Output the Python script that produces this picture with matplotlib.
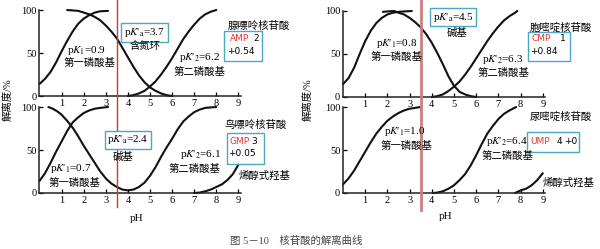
import matplotlib.pyplot as plt
from matplotlib.patches import Rectangle
from matplotlib.lines import Line2D

plt.rcParams["font.family"] = ["Liberation Serif", "Noto Sans CJK SC"]
plt.rcParams["mathtext.fontset"] = "stix"

# ---- data (pH, dissociation %) ----
# AMP (top left)
amp_p1_ph = [0, 0.25, 0.5, 0.75, 1, 1.25, 1.5, 1.75, 2, 2.25, 2.5, 2.75, 3.1]
amp_p1_pct = [14, 20, 28, 39, 52, 64, 75, 84, 90, 94, 97, 98.5, 99]
amp_base_ph = [1.25, 1.5, 1.75, 2, 2.25, 2.5, 2.75, 3, 3.25, 3.5, 3.75,
               4, 4.25, 4.5, 4.75, 5, 5.25, 5.5, 5.75, 6]
amp_base_pct = [100, 99.5, 99, 97, 95, 92, 88, 82, 75, 67, 56,
                45, 34, 24, 16, 10, 6, 3, 1, 0]
amp_p2_ph = [4, 4.25, 4.5, 4.75, 5, 5.25, 5.5, 5.75, 6, 6.25, 6.5,
             6.75, 7, 7.25, 7.5, 7.75, 8]
amp_p2_pct = [0, 1, 3, 6, 11, 17, 25, 34, 44, 55, 66,
              75, 83, 90, 95, 98, 100]

# CMP (top right)
cmp_p1_ph = [0, 0.25, 0.5, 0.75, 1, 1.25, 1.5, 1.75, 2, 2.25, 2.5, 2.75, 3.1]
cmp_p1_pct = [15, 22, 34, 50, 65, 77, 86, 92, 96, 98, 99, 99.5, 100]
cmp_base_ph = [1.8, 2, 2.3, 2.5, 2.75, 3, 3.25, 3.5, 3.75, 4, 4.25,
               4.5, 4.75, 5, 5.25, 5.5, 5.75, 6]
cmp_base_pct = [99, 99.5, 100, 98, 96, 92, 87, 81, 73, 63, 51,
                38, 24, 13, 6, 3, 1, 0]
cmp_p2_ph = [4, 4.25, 4.5, 4.75, 5, 5.25, 5.5, 5.75, 6, 6.25, 6.5,
             6.75, 7, 7.25, 7.5, 7.75, 7.85]
cmp_p2_pct = [0, 1, 3, 7, 12, 18, 26, 35, 45, 55, 65,
              74, 82, 89, 94, 98, 100]

# GMP (bottom left)
gmp_p1_ph = [0, 0.25, 0.5, 0.75, 1, 1.25, 1.5, 1.75, 2, 2.25, 2.5, 2.75, 3.1]
gmp_p1_pct = [14, 23, 35, 48, 60, 72, 82, 88, 93, 96, 98, 99, 100]
gmp_mid_ph = [0.4, 0.6, 0.8, 1, 1.25, 1.5, 1.75, 2, 2.25, 2.5, 2.75, 3,
              3.25, 3.5, 3.75, 4, 4.25, 4.5, 4.75, 5, 5.25, 5.5, 5.75,
              6, 6.25, 6.5, 6.75, 7, 7.25, 7.5, 8]
gmp_mid_pct = [100, 98, 95, 91, 84, 76, 66, 55, 45, 35, 25, 17,
               11, 7, 4, 3, 4, 7, 12, 20, 30, 42, 53,
               63, 74, 83, 89, 94, 97, 99, 100]
gmp_enol_ph = [7, 7.25, 7.5, 7.75, 8, 8.25, 8.5, 8.75, 9]
gmp_enol_pct = [0, 0.5, 2, 4, 7, 10, 15, 22, 33]

# UMP (bottom right)
ump_p1_ph = [0, 0.25, 0.5, 0.75, 1, 1.25, 1.5, 1.75, 2, 2.25, 2.5, 2.75, 3, 3.5]
ump_p1_pct = [10, 17, 26, 37, 48, 59, 69, 77, 84, 89, 93, 96, 98, 100]
ump_p2_ph = [4.05, 4.25, 4.5, 4.75, 5, 5.25, 5.5, 5.75, 6, 6.25, 6.5,
             6.75, 7, 7.25, 7.5, 7.8]
ump_p2_pct = [0, 0.5, 2, 5, 9, 15, 22, 32, 44, 57, 69,
              78, 86, 92, 96, 100]
ump_enol_ph = [7.75, 8, 8.25, 8.5, 8.75, 9]
ump_enol_pct = [0, 3, 5, 9, 15, 23]

x_ticks = [1, 2, 3, 4, 5, 6, 7, 8, 9]
y_ticks = [0, 50, 100]

W, H = 600, 249
TEAL = "#4aa8c0"
RED = "#e03535"

fig = plt.figure(figsize=(6.0, 2.49), dpi=100)


def px(x, y):
    return x / W, 1 - y / H


def make_axes(x0, unit, y0, y100):
    left, bottom = x0 / W, 1 - y0 / H
    ax = fig.add_axes([left, bottom, 9.1 * unit / W, (y0 - y100) / H])
    ax.set_xlim(0, 9.1)
    ax.set_ylim(0, 100)
    ax.set_xticks(x_ticks)
    ax.set_yticks(y_ticks)
    ax.tick_params(direction="in", length=3, width=0.9, labelsize=7.5, pad=2)
    for side in ("top", "right"):
        ax.spines[side].set_visible(False)
    for side in ("left", "bottom"):
        ax.spines[side].set_linewidth(1.1)
        ax.spines[side].set_color("#222222")
    ax.patch.set_alpha(0)
    return ax


ax_tl = make_axes(39.5, 22.1, 96, 10)
ax_tr = make_axes(343, 22.2, 97, 11)
ax_bl = make_axes(39.5, 22.1, 193, 107)
ax_br = make_axes(343, 22.2, 193, 107)

curves = [
    (ax_tl, [(amp_p1_ph, amp_p1_pct), (amp_base_ph, amp_base_pct), (amp_p2_ph, amp_p2_pct)]),
    (ax_tr, [(cmp_p1_ph, cmp_p1_pct), (cmp_base_ph, cmp_base_pct), (cmp_p2_ph, cmp_p2_pct)]),
    (ax_bl, [(gmp_p1_ph, gmp_p1_pct), (gmp_mid_ph, gmp_mid_pct), (gmp_enol_ph, gmp_enol_pct)]),
    (ax_br, [(ump_p1_ph, ump_p1_pct), (ump_p2_ph, ump_p2_pct), (ump_enol_ph, ump_enol_pct)]),
]
for ax, series in curves:
    for xs, ys in series:
        ax.plot(xs, ys, color="#111111", linewidth=1.5, clip_on=False,
                solid_capstyle="round", solid_joinstyle="round")

# red vertical lines across the stacked panels
fig.add_artist(Line2D([117 / W, 117 / W], [1, 1 - 207 / H], color="#c43c3c", linewidth=1.0))
fig.add_artist(Line2D([421 / W, 421 / W], [1, 1 - 210 / H], color="#c88080", linewidth=2.0))

cjk = 7.5
serif = 8


def label(x, y, s, size=cjk, **kw):
    fig.text(*px(x, y), s, fontsize=size, ha="center", va="center", **kw)


def boxed(x, y, s):
    fig.text(*px(x, y), s, fontsize=serif, ha="center", va="center",
             bbox=dict(boxstyle="square,pad=0.25", facecolor="white", edgecolor=TEAL, linewidth=1.0))


def nucleotide_box(x0, y0, x1, y1):
    fig.add_artist(Rectangle(px(x0, y1), (x1 - x0) / W, (y1 - y0) / H,
                             fill=False, edgecolor=TEAL, linewidth=1.0))


sans = ["DejaVu Sans"]

# top left: AMP
boxed(144.5, 32.5, r"p$K$'$_{\mathrm{a}}$=3.7")
label(145, 46, "含氮环")
label(87, 50, r"p$K_1$=0.9", serif)
label(89, 63, "第一磷酸基")
label(200, 58, r"p$K$'$_2$=6.2", serif)
label(199, 72, "第二磷酸基")
label(259, 26, "腺嘌呤核苷酸")
nucleotide_box(224, 31, 262, 61)
fig.text(*px(230, 38.5), "AMP", fontsize=6.5, color=RED, va="center", family=sans)
fig.text(*px(253, 38.5), "2", fontsize=6.5, va="center", family=sans)
fig.text(*px(227, 52), "+0.54", fontsize=6.5, va="center", family=sans)

# top right: CMP
boxed(453, 17, r"p$K$'$_{\mathrm{a}}$=4.5")
label(457, 33, "碱基")
label(397, 43, r"p$K$'$_1$=0.8", serif)
label(396, 57, "第一磷酸基")
label(503, 59, r"p$K$'$_2$=6.3", serif)
label(503, 73, "第二磷酸基")
label(561, 28, "胞嘧啶核苷酸")
nucleotide_box(528, 32, 570, 61)
fig.text(*px(531, 38.5), "CMP", fontsize=6.5, color=RED, va="center", family=sans)
fig.text(*px(560, 38.5), "1", fontsize=6.5, va="center", family=sans)
fig.text(*px(530, 52), "+0.84", fontsize=6.5, va="center", family=sans)

# bottom left: GMP
boxed(128, 140, r"p$K$'$_{\mathrm{a}}$=2.4")
label(123, 157, "碱基")
label(71, 168.5, r"p$K$'$_1$=0.7", serif)
label(74, 183, "第一磷酸基")
label(201, 154.5, r"p$K$'$_2$=6.1", serif)
label(194, 168.5, "第二磷酸基")
label(256, 125, "鸟嘌呤核苷酸")
label(265, 175, "烯醇式羟基")
nucleotide_box(227, 133, 264, 164)
fig.text(*px(229, 141), "GMP", fontsize=6.5, color=RED, va="center", family=sans)
fig.text(*px(251, 141), "3", fontsize=6.5, va="center", family=sans)
fig.text(*px(228, 153), "+0.05", fontsize=6.5, va="center", family=sans)

# bottom right: UMP
label(405, 131, r"p$K$'$_1$=1.0", serif)
label(406, 146, "第一磷酸基")
label(507, 141, r"p$K$'$_2$=6.4", serif)
label(507, 155.5, "第二磷酸基")
label(561, 117, "尿嘧啶核苷酸")
label(569, 182, "烯醇式羟基")
nucleotide_box(527, 132, 579, 152)
fig.text(*px(530, 142), "UMP", fontsize=6.5, color=RED, va="center", family=sans)
fig.text(*px(557, 142), "4", fontsize=6.5, va="center", family=sans)
fig.text(*px(564, 142), "+0", fontsize=6.5, va="center", family=sans)

# axis labels and caption
label(137, 218, "pH", serif)
label(446, 216, "pH", serif)
label(8, 100, "解离度/%", rotation=90)
label(308, 100, "解离度/%", rotation=90)
fig.text(*px(230, 241), "图 5－10    核苷酸的解离曲线", fontsize=7.5, va="center", color="#444444")

fig.savefig("out.png", dpi=100)
